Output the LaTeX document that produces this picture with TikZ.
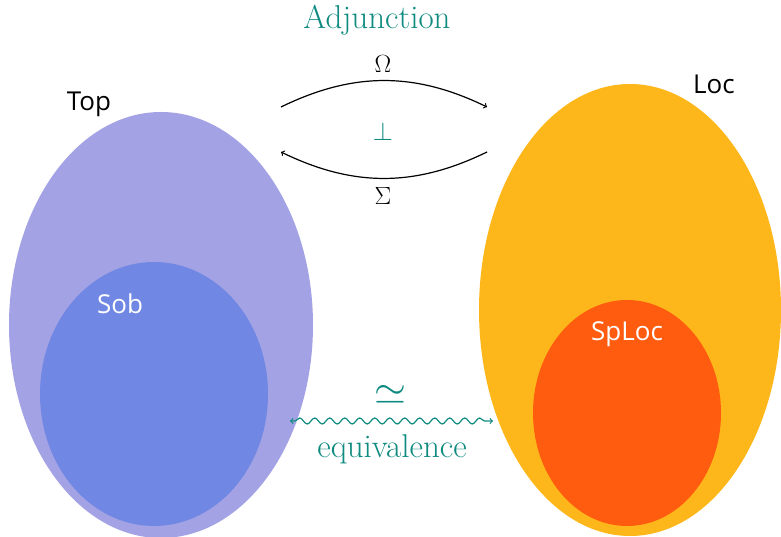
\documentclass[tikz,border=0pt]{standalone}
\usepackage{fontspec}
\newfontfamily\labelfont{Open Sans}
\usetikzlibrary{decorations.pathmorphing}
\definecolor{toplight}{HTML}{A3A2E4}
\definecolor{sobblue}{HTML}{7087E3}
\definecolor{locorange}{HTML}{FDB71B}
\definecolor{splocred}{HTML}{FF5C0F}
\definecolor{adjteal}{HTML}{0F8B80}
\begin{document}
\begin{tikzpicture}[x=1pt,y=1pt,
		setname/.style={font=\labelfont\fontsize{26}{30}\selectfont},
		tealtext/.style={text=adjteal,font=\fontsize{33}{38}\selectfont},
		funct/.style={font=\huge,scale=1.2,transform shape}]
			\useasboundingbox (0,0) rectangle (781,537);
			
			\fill[toplight] (161,212) ellipse (152 and 213);
			\fill[sobblue] (154,143) ellipse (114 and 132);
			\fill[locorange] (630,227) ellipse (151 and 226);
			\fill[splocred] (627,124) ellipse (94 and 113);
			
			\node[setname] (top) at (89,433) {Top};
			\node[setname] (loc) at (714,453) {Loc};
			\node[setname,text=white] (sob) at (120,233) {Sob};
			\node[setname,text=white] (sploc) at (627,203) {SpLoc};
			
			\coordinate (a) at (281,430);
			\coordinate (b) at (487,430);
			\coordinate (c) at (487,385);
			\coordinate (d) at (281,385);
			\draw[->,line width=1.2pt] (a) to[bend left=26] (b);
			\draw[->,line width=1.2pt] (c) to[bend left=26] (d);
			
			\node[tealtext] (adj) at (377,517) {Adjunction};
			\node[funct] (om) at (383,473) {$\Omega$};
			\node[funct,text=adjteal,scale=1.04] (perp) at (383,405) {$\perp$};
			\node[funct] (si) at (383,341) {$\Sigma$};
			
			\coordinate (e) at (290,116);
			\coordinate (f) at (493,116);
			\draw[<->,adjteal,line width=1.2pt,decorate,decoration={snake,amplitude=3pt,segment length=15pt,pre length=5pt,post length=5pt}] (e) -- (f);
			
			\node[funct,text=adjteal,scale=1.65] (eq) at (390,142) {$\simeq$};
			\node[tealtext] (equiv) at (392,88) {equivalence};
		\end{tikzpicture}
\end{document}
